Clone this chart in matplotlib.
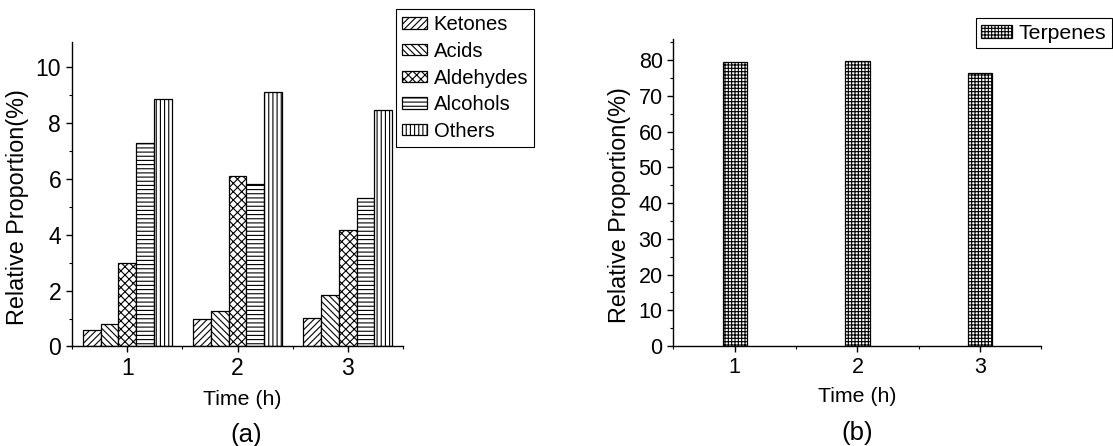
import numpy as np
import matplotlib.pyplot as plt
from matplotlib.ticker import MultipleLocator

plt.rcParams['font.family'] = ['Liberation Sans', 'DejaVu Sans']
plt.rcParams['hatch.linewidth'] = 0.8

# data
times = [1, 2, 3]
ketones = [0.6, 0.99, 1.02]
acids = [0.8, 1.26, 1.86]
aldehydes = [3.0, 6.1, 4.17]
alcohols = [7.29, 5.81, 5.32]
others = [8.87, 9.11, 8.47]
terpenes = [79.5, 79.7, 76.3]

series_a = [('Ketones', ketones, '/////'), ('Acids', acids, '\\\\\\\\\\'),
            ('Aldehydes', aldehydes, 'xxxx'), ('Alcohols', alcohols, '----'),
            ('Others', others, '||||')]

fig = plt.figure(figsize=(11.13, 4.46), dpi=100)
ax1 = fig.add_axes([0.0647, 0.2231, 0.2974, 0.6827])
ax2 = fig.add_axes([0.6051, 0.2242, 0.3306, 0.6877])

def style(ax, fs):
    for s in ['top', 'right']:
        ax.spines[s].set_visible(False)
    for s in ['left', 'bottom']:
        ax.spines[s].set_linewidth(1.0)
    ax.tick_params(which='major', direction='out', length=4.3, width=1, labelsize=fs, pad=3.5)
    ax.tick_params(which='minor', direction='out', length=2.3, width=0.8)
    ax.set_xlim(0.5, 3.5)
    ax.set_xticks(times)
    ax.xaxis.set_minor_locator(MultipleLocator(0.5))

x = np.array(times, dtype=float)
w = 0.161
handles = []
for i, (name, vals, h) in enumerate(series_a):
    b = ax1.bar(x + (i - 2) * w, vals, w, color='white', edgecolor='black',
                linewidth=0.9, hatch=h, label=name)
    handles.append(b)
style(ax1, 16.5)
ax1.set_ylim(0, 10.9)
ax1.yaxis.set_major_locator(MultipleLocator(2))
ax1.yaxis.set_minor_locator(MultipleLocator(1))
ax1.set_xlabel('Time (h)', fontsize=15.3, va='center')
ax1.xaxis.set_label_coords(0.5136, -0.1757)
ax1.set_ylabel('Relative Proportion(%)', fontsize=16.8, va='center')
ax1.yaxis.set_label_coords(-0.164, 0.4565)
leg1 = fig.legend(handles=handles, loc='upper left', bbox_to_anchor=(0.3558, 0.9798),
                  borderaxespad=0, fontsize=14.6, fancybox=False, edgecolor='black',
                  framealpha=1, handlelength=1.25, handleheight=0.5, handletextpad=0.3,
                  labelspacing=0.38, borderpad=0.3)
leg1.get_frame().set_linewidth(0.8)

b2 = ax2.bar(x, terpenes, 0.2, color='white', edgecolor='black', linewidth=0.9,
             hatch='+++++', label='Terpenes')
style(ax2, 15.5)
ax2.set_ylim(0, 85.8)
ax2.yaxis.set_major_locator(MultipleLocator(10))
ax2.yaxis.set_minor_locator(MultipleLocator(5))
ax2.set_xlabel('Time (h)', fontsize=15.3, va='center')
ax2.xaxis.set_label_coords(0.4986, -0.166)
ax2.set_ylabel('Relative Proportion(%)', fontsize=16.8, va='center')
ax2.yaxis.set_label_coords(-0.148, 0.458)
leg2 = fig.legend(handles=[b2], loc='upper left', bbox_to_anchor=(0.8767, 0.959),
                  borderaxespad=0, fontsize=15.3, fancybox=False, edgecolor='black',
                  framealpha=1, handlelength=1.45, handleheight=0.55, handletextpad=0.3,
                  borderpad=0.26)
leg2.get_frame().set_linewidth(0.8)

fig.text(0.2208, 0.0247, '(a)', fontsize=18.5, ha='center', va='center')
fig.text(0.77, 0.029, '(b)', fontsize=18.5, ha='center', va='center')

fig.savefig('out.png', dpi=100)
